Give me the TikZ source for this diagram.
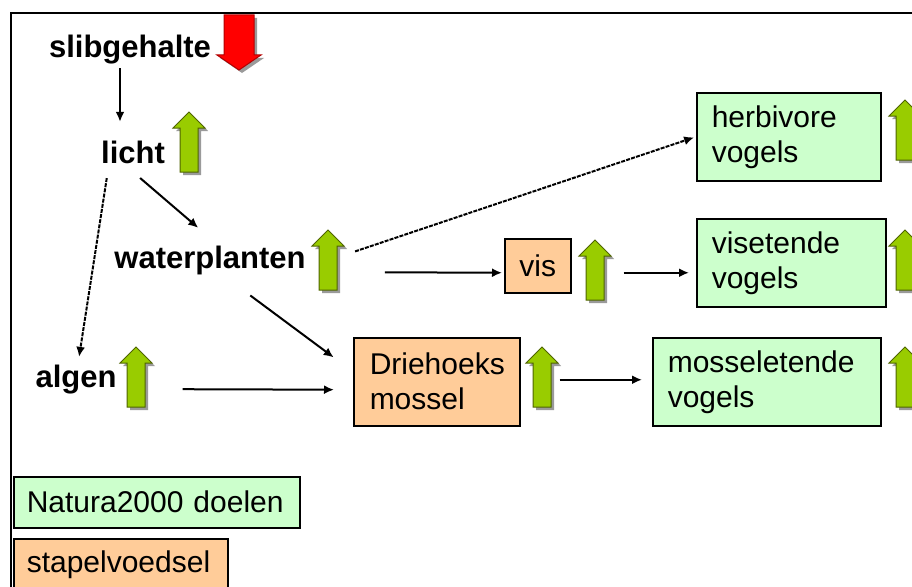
\documentclass[tikz,border=0pt]{standalone}
\usepackage{fontspec}
\setmainfont{Liberation Sans}
\usetikzlibrary{arrows.meta}

\definecolor{lichtgroen}{HTML}{CCFFCC}
\definecolor{zalm}{HTML}{FFCC99}
\definecolor{pijlgroen}{HTML}{99CC00}
\definecolor{pijlrand}{HTML}{4F6400}
\definecolor{schaduw}{HTML}{9A9A9A}

\begin{document}
\begin{tikzpicture}[x=1pt, y=-1pt,
        woord/.style={anchor=base, inner sep=0pt, text height=23pt, text depth=7pt,
            font=\fontsize{31}{36}\selectfont\bfseries},
        vak/.style={draw=black, line width=1.5pt, anchor=north west, align=left,
            inner xsep=15pt, inner ysep=0pt, minimum height=88pt,
            font=\fontsize{30}{35}\selectfont},
        doel/.style={vak, fill=lichtgroen},
        voedsel/.style={vak, fill=zalm},
        pijl/.style={-{Latex[length=10pt,width=9pt]}, line width=2pt},
        stippel/.style={pijl, dash pattern=on 4pt off 1.2pt},
        omhoog/.pic={
            \fill[schaduw, shift={(3,3)}] (-9,0) -- (-9,-44) -- (-16,-44) -- (0,-60)
                -- (16,-44) -- (9,-44) -- (9,0) -- cycle;
            \filldraw[fill=pijlgroen, draw=pijlrand, line width=1pt] (-9,0) -- (-9,-44)
                -- (-16,-44) -- (0,-60) -- (16,-44) -- (9,-44) -- (9,0) -- cycle;
        },
        omlaag/.pic={
            \fill[schaduw, shift={(3,3)}] (-15,0) -- (15,0) -- (15,40) -- (22,40)
                -- (0,55) -- (-22,40) -- (-15,40) -- cycle;
            \filldraw[fill=red, draw=red!70!black, line width=1pt] (-15,0) -- (15,0)
                -- (15,40) -- (22,40) -- (0,55) -- (-22,40) -- (-15,40) -- cycle;
        }]
    \useasboundingbox (0,0) rectangle (912,586);
    \clip (0,0) rectangle (912,586);
    \draw[line width=2pt] (11,590) -- (11,13) -- (916,13);

    % oorzaken
    \node[woord] (slib) at (130,58) {slibgehalte};
    \node[woord] (licht) at (133,163) {licht};
    \node[woord] (water) at (210,268) {waterplanten};
    \node[woord] (algen) at (76,387) {algen};

    % voedsel en doelen
    \node[voedsel, minimum width=66pt, inner xsep=0pt, minimum height=54pt, align=center] (vis) at (504,238) {vis};
    \node[voedsel, text width=134pt, inner xsep=16pt] (drie) at (353,337) {Driehoeks\\mossel};
    \node[doel, text width=154pt] (herb) at (696,92) {herbivore\\vogels};
    \node[doel, text width=159pt] (viset) at (696,218) {visetende\\vogels};
    \node[doel, text width=198pt] (mossel) at (652,337) {mosseletende\\vogels};

    % legenda
    \node[doel, text width=260pt, inner xsep=13pt, minimum height=51pt] (natura) at (13,476) {Natura2000 doelen};
    \node[voedsel, text width=188pt, inner xsep=13pt, minimum height=51pt] (stapel) at (13,538) {stapelvoedsel};

    % pijlen
    \draw[pijl, shorten <=3pt, shorten >=18pt] ([xshift=-10pt]slib.south) -- ([xshift=-13pt]licht.north);
    \draw[stippel, shorten <=8pt, shorten >=7pt] ([xshift=-25pt]licht.south) -- ([xshift=2pt]algen.north);
    \draw[pijl, shorten <=12pt, shorten >=26pt] ([xshift=-2pt]licht.south) -- ([xshift=8pt]water.north);
    \draw[stippel, shorten <=52pt, shorten >=2pt] ([yshift=-8pt]water.east) -- (herb.west);
    \draw[pijl, shorten <=79pt, shorten >=2pt] ([yshift=-12pt]water.east) -- ([yshift=-7pt]vis.west);
    \draw[pijl, shorten <=52pt, shorten >=7pt] ([yshift=-7pt]vis.east) -- ([yshift=-10pt]viset.west);
    \draw[pijl, shorten <=34pt, shorten >=24pt] ([xshift=13pt]water.south) -- ([yshift=10pt]drie.west);
    \draw[pijl, shorten <=66pt, shorten >=19pt] ([yshift=-10pt]algen.east) -- ([yshift=-8pt]drie.west);
    \draw[pijl, shorten <=39pt, shorten >=10pt] ([yshift=2pt]drie.east) -- ([yshift=2pt]mossel.west);

    % trend
    \pic at (239,15) {omlaag};
    \pic at (189,172) {omhoog};
    \pic at (328,290) {omhoog};
    \pic at (136,407) {omhoog};
    \pic at (595,300) {omhoog};
    \pic at (542,407) {omhoog};
    \pic at (905,160) {omhoog};
    \pic at (905,290) {omhoog};
    \pic at (905,407) {omhoog};
\end{tikzpicture}
\end{document}
